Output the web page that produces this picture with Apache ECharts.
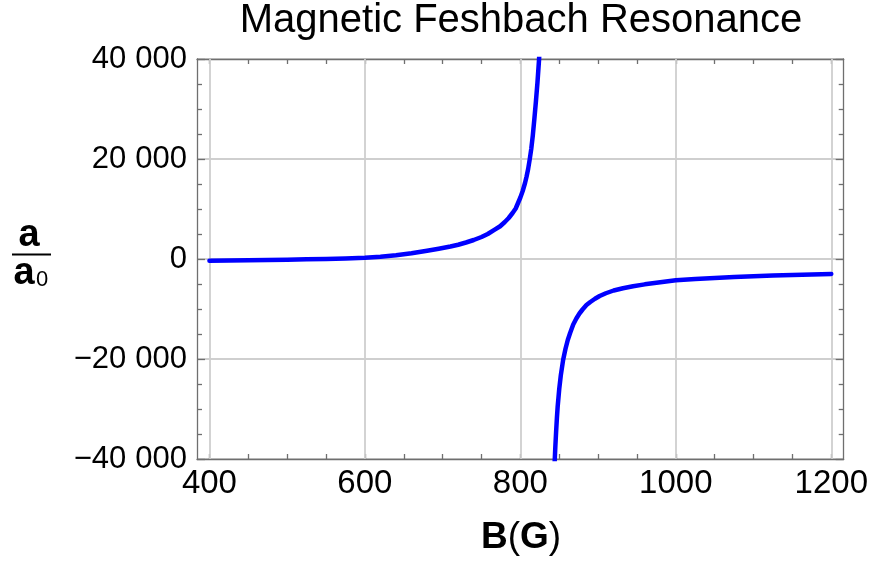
<!DOCTYPE html>
<html>
<head>
<meta charset="utf-8">
<script src="https://cdn.jsdelivr.net/npm/echarts@6/dist/echarts.min.js"></script>
<style>
html,body{margin:0;padding:0;background:#fff;}
#chart{width:871px;height:563px;}
</style>
</head>
<body>
<div id="chart"></div>
<script>
// ---- data ----
const chartTitle = 'Magnetic Feshbach Resonance';
// left branch (below resonance)
const leftB = [400, 425, 450, 475, 500, 525, 550, 575, 600, 620, 640, 660, 680, 695, 710, 720, 730, 740, 750, 758, 767, 774, 780, 785, 790, 794, 797, 800, 803, 806, 808, 810, 812, 814, 816, 818, 820, 822, 824, 825];
const leftA = [-340, -300, -250, -190, -130, -60, 20, 120, 250, 450, 750, 1150, 1650, 2050, 2500, 2850, 3300, 3800, 4400, 5000, 5860, 6550, 7400, 8200, 9200, 10100, 11200, 12300, 13600, 15200, 16500, 18000, 19900, 22000, 24700, 28000, 31500, 35300, 39800, 42500];
// right branch (above resonance)
const rightB = [844, 845, 846, 847, 848, 850, 852, 855, 858, 861, 864, 868, 872, 876, 880, 885, 890, 896, 902, 910, 920, 932, 945, 960, 975, 1000, 1025, 1050, 1075, 1100, 1125, 1150, 1175, 1200];
const rightA = [-41000, -37500, -34500, -31800, -29500, -26000, -23300, -20200, -18000, -16200, -14800, -13100, -11900, -10900, -10100, -9200, -8600, -7950, -7400, -6850, -6300, -5850, -5450, -5070, -4750, -4270, -4000, -3800, -3600, -3440, -3310, -3200, -3090, -3000];
// ticks
const xMajorTicks = [400, 600, 800, 1000, 1200];
const xMinorTicks = [400, 450, 500, 550, 600, 650, 700, 750, 800, 850, 900, 950, 1000, 1050, 1100, 1150, 1200];
const yTickValues = [-40000, -20000, 0, 20000, 40000];
const yTickLabels = ['\u221240 000', '\u221220 000', '0', '20 000', '40 000'];

const FONT = 'Liberation Sans, Arial, sans-serif';
const frameColor = '#6f6f6f';
const tickColor = '#6f6f6f';
const gridColor = '#cfcfcf';

const chart = echarts.init(document.getElementById('chart'), null, {renderer: 'canvas'});

function yFormatter(v) {
  const i = yTickValues.indexOf(v);
  if (i < 0) return '';
  const parts = yTickLabels[i].split(' ');
  if (parts.length === 1) return '{d|' + parts[0] + '}';
  return '{d|' + parts[0] + '}{s| }{d|' + parts[1] + '}';
}

const frameAxisX = (pos, showLabel) => ({
  type: 'value', position: pos, min: 384, max: 1216,
  axisLine: {show: true, onZero: false, lineStyle: {color: frameColor, width: 1.3}},
  axisTick: {show: true, inside: true, length: 5, customValues: xMinorTicks, lineStyle: {color: tickColor, width: 1.3}},
  axisLabel: showLabel ? {show: true, customValues: xMajorTicks, formatter: v => String(v),
    fontSize: 33, fontFamily: FONT, color: '#000', margin: 8} : {show: false},
  splitLine: {show: false},
  minorTick: {show: false}
});

const frameAxisY = (pos, showLabel) => ({
  type: 'value', position: pos, min: -40000, max: 40000, interval: 20000,
  axisLine: {show: true, onZero: false, lineStyle: {color: frameColor, width: 1.3}},
  axisTick: {show: true, inside: true, length: 8, lineStyle: {color: tickColor, width: 1.3}},
  minorTick: {show: true, splitNumber: 4, length: 5, lineStyle: {color: tickColor, width: 1.3}},
  axisLabel: showLabel ? {
    show: true, margin: 10, color: '#000', formatter: yFormatter,
    rich: {
      d: {fontSize: 31, fontFamily: FONT, color: '#000'},
      s: {fontSize: 31, fontFamily: FONT, width: 9}
    }
  } : {show: false},
  splitLine: showLabel ? {show: true, lineStyle: {color: gridColor, width: 1.8}} : {show: false}
});

const option = {
  animation: false,
  backgroundColor: '#fff',
  grid: {left: 197, right: 26, top: 59, bottom: 104, containLabel: false},
  xAxis: [frameAxisX('bottom', true), frameAxisX('top', false)],
  yAxis: [frameAxisY('left', true), frameAxisY('right', false)],
  graphic: [
    {type: 'text', x: 521, y: 21, z: 10,
     style: {text: chartTitle, font: '40px ' + FONT, fill: '#000', align: 'center', verticalAlign: 'middle'}},
    {type: 'text', x: 521, y: 538, z: 10,
     style: {text: '{b|B}{n|(}{b|G}{n|)}', align: 'center', verticalAlign: 'middle',
       rich: {b: {font: 'bold 37px ' + FONT, fill: '#000'}, n: {font: '37px ' + FONT, fill: '#000'}}}},
    {type: 'text', x: 29, y: 236, z: 10,
     style: {text: 'a', font: 'bold 38px ' + FONT, fill: '#000', align: 'center', verticalAlign: 'middle'}},
    {type: 'line', z: 10, shape: {x1: 12, y1: 254.5, x2: 51, y2: 254.5}, style: {stroke: '#000', lineWidth: 2}},
    {type: 'text', x: 24, y: 274, z: 10,
     style: {text: 'a', font: 'bold 38px ' + FONT, fill: '#000', align: 'center', verticalAlign: 'middle'}},
    {type: 'text', x: 36, y: 280, z: 10,
     style: {text: '0', font: '22px ' + FONT, fill: '#000', align: 'left', verticalAlign: 'middle'}}
  ],
  series: [
    {
      type: 'line', data: [], z: 1, silent: true,
      markLine: {
        silent: true, z: 1, symbol: ['none', 'none'], label: {show: false},
        lineStyle: {type: 'solid', color: gridColor, width: 1.8},
        emphasis: {disabled: true},
        data: xMajorTicks.map(v => ({xAxis: v}))
      }
    },
    {
      type: 'line', z: 3, showSymbol: false, smooth: false, clip: true,
      lineStyle: {color: '#0000ff', width: 4.5, join: 'round', cap: 'round'},
      data: leftB.map((b, i) => [b, leftA[i]])
    },
    {
      type: 'line', z: 3, showSymbol: false, smooth: false, clip: true,
      lineStyle: {color: '#0000ff', width: 4.5, join: 'round', cap: 'round'},
      data: rightB.map((b, i) => [b, rightA[i]])
    }
  ]
};
chart.setOption(option);
</script>
</body>
</html>
